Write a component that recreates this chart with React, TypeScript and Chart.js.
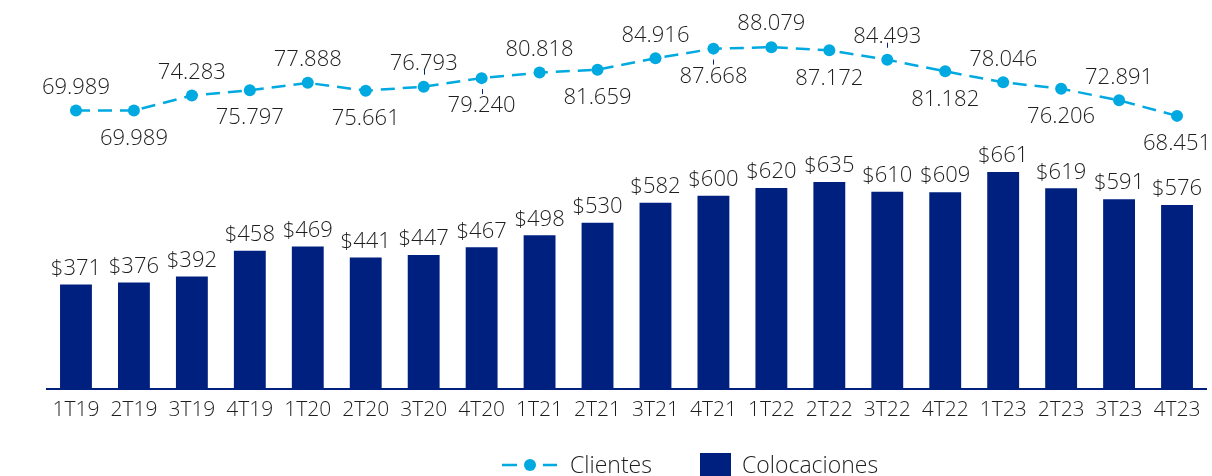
import React, { useEffect, useRef } from "react";
import { Chart, registerables } from "chart.js";

Chart.register(...registerables);

const categories = ["1T19", "2T19", "3T19", "4T19", "1T20", "2T20", "3T20", "4T20", "1T21", "2T21", "3T21", "4T21", "1T22", "2T22", "3T22", "4T22", "1T23", "2T23", "3T23", "4T23"];
const colocaciones = [371, 376, 392, 458, 469, 441, 447, 467, 498, 530, 582, 600, 620, 635, 610, 609, 661, 619, 591, 576];
const clientes = [69989, 69989, 74283, 75797, 77888, 75661, 76793, 79240, 80818, 81659, 84916, 87668, 88079, 87172, 84493, 81182, 78046, 76206, 72891, 68451];
const leaderIdx = [6, 7, 11, 14];

const FONT = '"Open Sans", sans-serif';
const WEIGHT = "300";
const TEXT = "#1e1e1e";
const NAVY = "#00207F";
const CYAN = "#00A9E0";

const fmt = (v: number) => String(v).replace(/\B(?=(\d{3})+(?!\d))/g, ".");

const labelPlugin = {
  id: "valueLabels",
  afterDatasetsDraw(chart: any) {
    const ctx = chart.ctx;
    ctx.save();
    ctx.fillStyle = TEXT;
    ctx.textAlign = "center";
    ctx.textBaseline = "middle";
    ctx.font = `${WEIGHT} 22px ${FONT}`;
    const barMeta = chart.getDatasetMeta(1);
    barMeta.data.forEach((el: any, i: number) => {
      ctx.fillText("$" + colocaciones[i], el.x, el.y - 16);
    });
    const lineMeta = chart.getDatasetMeta(0);
    lineMeta.data.forEach((el: any, i: number) => {
      const above = i % 2 === 0;
      ctx.fillText(fmt(clientes[i]), el.x, above ? el.y - 23 : el.y + 28);
      if (leaderIdx.includes(i)) {
        ctx.strokeStyle = NAVY;
        ctx.lineWidth = 1;
        ctx.beginPath();
        const x = Math.round(el.x) + 0.5;
        if (above) {
          ctx.moveTo(x, el.y - 17);
          ctx.lineTo(x, el.y - 12);
        } else {
          ctx.moveTo(x, el.y + 11);
          ctx.lineTo(x, el.y + 16);
        }
        ctx.stroke();
      }
    });
    ctx.restore();
  },
};

const legendPlugin = {
  id: "customLegend",
  afterDraw(chart: any) {
    const ctx = chart.ctx;
    const y = 465;
    ctx.save();
    ctx.strokeStyle = CYAN;
    ctx.lineWidth = 2.5;
    ctx.beginPath();
    ctx.moveTo(502, y);
    ctx.lineTo(517, y);
    ctx.moveTo(543, y);
    ctx.lineTo(557, y);
    ctx.stroke();
    ctx.fillStyle = CYAN;
    ctx.beginPath();
    ctx.arc(530, y, 6, 0, Math.PI * 2);
    ctx.fill();
    ctx.fillStyle = TEXT;
    ctx.font = `${WEIGHT} 23px ${FONT}`;
    ctx.textAlign = "left";
    ctx.textBaseline = "middle";
    ctx.fillText(chart.data.datasets[0].label, 570, y + 1);
    ctx.fillStyle = NAVY;
    ctx.fillRect(700, 453, 31, 24);
    ctx.fillStyle = TEXT;
    ctx.fillText(chart.data.datasets[1].label, 742, y + 1);
    ctx.restore();
  },
};

export default function App() {
  const ref = useRef<HTMLCanvasElement | null>(null);
  useEffect(() => {
    if (!ref.current) return;
    const chart = new Chart(ref.current, {
      type: "bar",
      data: {
        labels: categories,
        datasets: [
          {
            type: "line",
            label: "Clientes",
            data: clientes,
            yAxisID: "yLine",
            borderColor: CYAN,
            backgroundColor: CYAN,
            borderWidth: 2.5,
            borderDash: [14, 8],
            pointRadius: 6,
            pointHoverRadius: 6,
            pointBackgroundColor: CYAN,
            pointBorderWidth: 0,
            tension: 0,
            order: 0,
          } as any,
          {
            type: "bar",
            label: "Colocaciones",
            data: colocaciones,
            yAxisID: "yBar",
            backgroundColor: NAVY,
            borderWidth: 0,
            categoryPercentage: 1,
            barPercentage: 0.55,
            order: 1,
          },
        ],
      },
      options: {
        animation: false,
        responsive: false,
        maintainAspectRatio: false,
        layout: { padding: { left: 47, right: 3, top: 0, bottom: 44 } },
        plugins: {
          legend: { display: false },
          tooltip: { enabled: false },
        },
        scales: {
          x: {
            grid: { display: false, drawTicks: false },
            border: { display: true, color: NAVY, width: 2 },
            ticks: {
              color: TEXT,
              font: { family: FONT, size: 21, weight: WEIGHT as any },
              padding: 9,
              maxRotation: 0,
              autoSkip: false,
            },
          },
          yBar: {
            display: false,
            min: 102.5,
            max: 1088.5,
          },
          yLine: {
            display: false,
            min: -9536,
            max: 99850,
          },
        },
      },
      plugins: [labelPlugin, legendPlugin],
    });
    return () => chart.destroy();
  }, []);
  return (
    <div style={{ position: "fixed", left: 0, top: 0, width: 1212, height: 476, background: "#fff" }}>
      <canvas ref={ref} width={1212} height={476} style={{ width: 1212, height: 476, display: "block" }} />
    </div>
  );
}
